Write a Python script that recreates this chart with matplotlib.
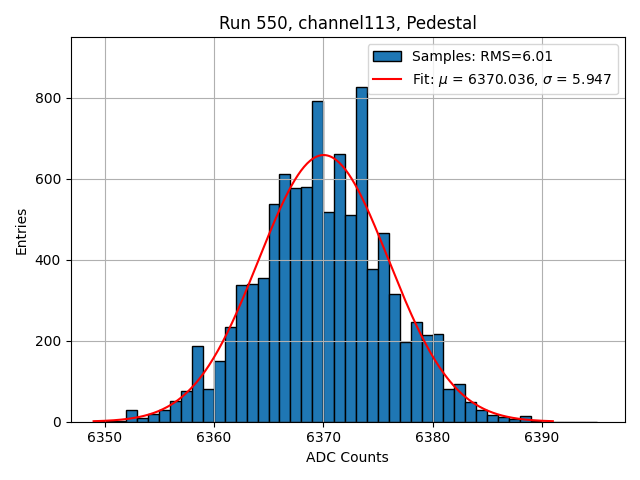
import numpy as np
import matplotlib
matplotlib.use('Agg')
import matplotlib.pyplot as plt

# bin edges (ADC counts) and counts
edges = np.arange(6349, 6396)
counts = [1, 2, 3, 29, 8, 18, 28, 51, 76, 186,
          82, 150, 235, 337, 341, 354, 537, 612, 577, 579,
          793, 518, 662, 511, 826, 378, 466, 316, 198, 247,
          215, 218, 80, 93, 48, 30, 16, 11, 7, 14,
          2, 0, 0, 0, 0, 0]

mu = 6370.036
sigma = 5.947
amp = 659
rms = 6.01

centers = edges[:-1] + 0.5

fig, ax = plt.subplots(figsize=(6.4, 4.8), dpi=100)
ax.hist(centers, bins=edges, weights=counts, edgecolor='black',
        label='Samples: RMS=%.2f' % rms)

x = np.linspace(6349, 6391, 300)
y = amp * np.exp(-0.5 * ((x - mu) / sigma) ** 2)
ax.plot(x, y, color='red', label=r'Fit: $\mu$ = %.3f, $\sigma$ = %.3f' % (mu, sigma))

ax.set_xlim(6346.9, 6397.6)
ax.set_ylim(0, max(counts) * 1.15)
ax.set_xlabel('ADC Counts')
ax.set_ylabel('Entries')
ax.set_title('Run 550, channel113, Pedestal')
ax.grid(True)
ax.legend(loc='upper right')
fig.tight_layout()
fig.savefig('out.png')
